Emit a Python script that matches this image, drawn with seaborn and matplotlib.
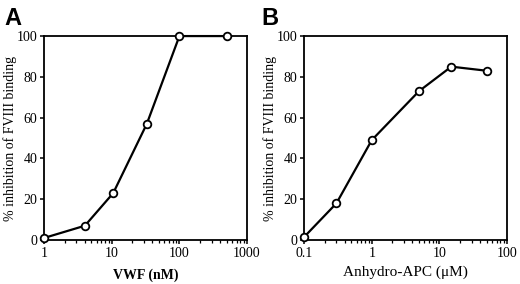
import numpy as np
import matplotlib
matplotlib.use("Agg")
import matplotlib.pyplot as plt
import seaborn as sns
import pandas as pd

vwf_nm = [1, 4, 10.5, 33, 100, 500]
vwf_inhib = [1, 7, 23, 57, 100, 100]

apc_um = [0.1, 0.3, 1, 5, 15, 50]
apc_inhib = [1.5, 18, 49, 73, 85, 83]

sns.set_style("ticks")
plt.rcParams['font.family'] = ['Liberation Serif', 'DejaVu Serif']
plt.rcParams['text.color'] = 'black'
plt.rcParams['axes.labelcolor'] = 'black'
plt.rcParams['xtick.color'] = 'black'
plt.rcParams['ytick.color'] = 'black'
plt.rcParams['axes.edgecolor'] = 'black'

fig = plt.figure(figsize=(5.2, 2.84), dpi=100)
axA = fig.add_axes([0.085, 0.155, 0.39, 0.718])
axB = fig.add_axes([0.585, 0.155, 0.39, 0.718])

dfA = pd.DataFrame({'x': vwf_nm, 'y': vwf_inhib})
dfB = pd.DataFrame({'x': apc_um, 'y': apc_inhib})

for ax, df, xlim, xlabel, bold, xfs, lp in [
        (axA, dfA, (1, 1000), 'VWF (nM)', True, 10, 6),
        (axB, dfB, (0.1, 100), 'Anhydro-APC (\u03bcM)', False, 11, 4)]:
    sns.lineplot(data=df, x='x', y='y', ax=ax, color='black', linewidth=1.6,
                 marker='o', markersize=5.5, markerfacecolor='white',
                 markeredgecolor='black', markeredgewidth=1.3, clip_on=False, zorder=5)
    ax.set_xscale('log')
    ax.set_xlim(*xlim)
    ax.set_ylim(0, 100)
    ax.set_yticks([0, 20, 40, 60, 80, 100])
    ax.xaxis.set_major_formatter(matplotlib.ticker.FuncFormatter(lambda v, p: f'{v:g}'))
    ax.set_xlabel(xlabel, fontsize=xfs, fontweight='bold' if bold else 'normal', labelpad=lp)
    ax.set_ylabel('% inhibition of FVIII binding', fontsize=10, labelpad=0)
    ax.tick_params(labelsize=10, length=3, width=1.1, pad=2)
    ax.tick_params(which='minor', length=2, width=0.9)
    for s in ax.spines.values():
        s.set_linewidth(1.3)

fig.text(0.008, 0.975, 'A', fontsize=17, fontweight='bold', va='top', family='Liberation Sans')
fig.text(0.503, 0.975, 'B', fontsize=17, fontweight='bold', va='top', family='Liberation Sans')

plt.savefig('out.png', dpi=100)
